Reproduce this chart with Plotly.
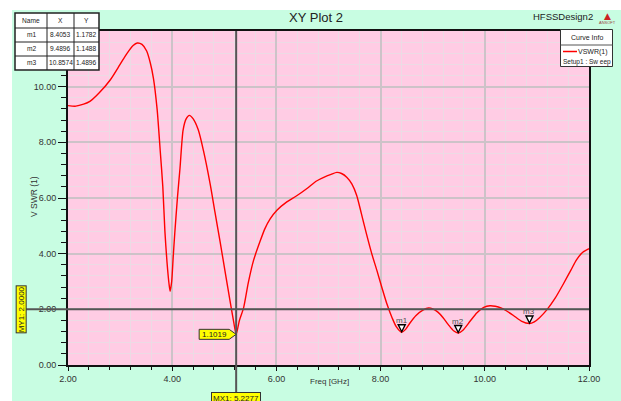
import plotly.graph_objects as go

# ---------------- data ----------------
freq_ghz = [2.00, 2.15, 2.30, 2.42, 2.60, 2.81, 3.00, 3.13, 3.25, 3.33, 3.42, 3.51, 3.58, 3.64,
            3.71, 3.77, 3.82, 3.86, 3.90, 3.94, 3.96, 3.99, 4.02, 4.05, 4.10, 4.15, 4.21, 4.27,
            4.33, 4.40, 4.50, 4.60, 4.73, 4.82, 4.92, 5.02, 5.11, 5.18, 5.2277, 5.29, 5.37,
            5.46, 5.56, 5.69, 5.78, 5.88, 6.01, 6.20, 6.39, 6.60, 6.77, 6.95, 7.05, 7.16, 7.25,
            7.35, 7.45, 7.54, 7.63, 7.73, 7.83, 7.93, 8.03, 8.12, 8.22, 8.30, 8.4053, 8.48,
            8.56, 8.68, 8.82, 8.92, 9.00, 9.10, 9.20, 9.30, 9.40, 9.4896, 9.58, 9.72, 9.85,
            9.98, 10.10, 10.20, 10.32, 10.42, 10.55, 10.70, 10.8574, 10.95, 11.05, 11.19, 11.35,
            11.51, 11.65, 11.76, 11.88, 12.00]
vswr = [9.32, 9.30, 9.37, 9.47, 9.78, 10.24, 10.80, 11.19, 11.48, 11.57, 11.52, 11.28, 10.85, 10.30,
        9.20, 7.70, 6.40, 4.80, 3.70, 2.90, 2.65, 3.00, 3.90, 4.75, 6.00, 7.08, 8.45, 8.85,
        8.97, 8.85, 8.45, 7.70, 6.49, 5.50, 4.42, 3.30, 2.30, 1.55, 1.1019, 1.60, 2.05,
        2.95, 3.75, 4.46, 4.90, 5.25, 5.56, 5.86, 6.08, 6.36, 6.61, 6.78, 6.85, 6.92, 6.88,
        6.75, 6.50, 6.10, 5.45, 4.70, 4.00, 3.39, 2.75, 2.20, 1.70, 1.38, 1.1782, 1.28,
        1.50, 1.78, 1.98, 2.05, 2.02, 1.90, 1.70, 1.45, 1.23, 1.1488, 1.25, 1.58, 1.88,
        2.07, 2.13, 2.11, 2.04, 1.94, 1.78, 1.58, 1.4896, 1.55, 1.70, 1.98, 2.40,
        2.92, 3.40, 3.78, 4.05, 4.18]

marker_names = ["m1", "m2", "m3"]
marker_x = [8.4053, 9.4896, 10.8574]
marker_y = [1.1782, 1.1488, 1.4896]

mx1_value = 5.2277
mx1_curve_value = 1.1019
my1_value = 2.0

x_ticks = [2, 4, 6, 8, 10, 12]
y_ticks = [0, 2, 4, 6, 8, 10]

# ---------------- layout helpers ----------------
W, H = 621, 401
L, R, T, B = 68, 589, 31, 365


def px(x):
    return (x - L) / (R - L)


def py(y):
    return (B - y) / (B - T)


FONT = "Liberation Sans Narrow, Liberation Sans, Arial, sans-serif"
PINK = "#ffcce4"
GREEN = "#c8fde2"
YELLOW = "#ffff00"

fig = go.Figure()

fig.add_trace(go.Scatter(
    x=freq_ghz, y=vswr, mode="lines",
    line=dict(color="#ff0000", width=1.4, shape="spline", smoothing=0.7),
    hoverinfo="skip", showlegend=False,
))

shapes = []
annotations = []


def note(**kw):
    d = dict(showarrow=False, xanchor="center", yanchor="middle")
    d.update(kw)
    annotations.append(d)


# backgrounds
shapes.append(dict(type="rect", xref="paper", yref="paper", x0=px(12), x1=px(W), y0=py(10), y1=py(H),
                   fillcolor=GREEN, line=dict(width=0), layer="below"))
shapes.append(dict(type="rect", xref="paper", yref="paper", x0=0, x1=1, y0=0, y1=1,
                   fillcolor=PINK, line=dict(width=0), layer="below"))

# marker lines
shapes.append(dict(type="line", xref="x", yref="paper", x0=mx1_value, x1=mx1_value, y0=py(392), y1=1,
                   line=dict(color="#555555", width=2), layer="above"))
shapes.append(dict(type="line", xref="paper", yref="y", x0=px(25), x1=1, y0=my1_value, y1=my1_value,
                   line=dict(color="#555555", width=2), layer="above"))

# m1..m3 triangles
for name, mx, my in zip(marker_names, marker_x, marker_y):
    shapes.append(dict(type="path", xref="x", yref="y", xsizemode="pixel", ysizemode="pixel",
                       xanchor=mx, yanchor=my, path="M -3.5,7.5 L 3.5,7.5 L 0,0.5 Z",
                       fillcolor="#ffffff", line=dict(color="#000000", width=1.4), layer="above"))
    note(x=mx, y=my, xref="x", yref="y", text=name, yshift=12,
         font=dict(family=FONT, size=8, color="#505050"))

# 1.1019 yellow pointer label
shapes.append(dict(type="path", xref="x", yref="y", xsizemode="pixel", ysizemode="pixel",
                   xanchor=mx1_value, yanchor=mx1_curve_value,
                   path="M -37,-5 L -7,-5 L 0,0 L -7,5 L -37,5 Z",
                   fillcolor=YELLOW, line=dict(color="#333333", width=1), layer="above"))
note(x=mx1_value, y=mx1_curve_value, xref="x", yref="y", text=f"{mx1_curve_value:.4f}",
     xshift=-22, font=dict(family=FONT, size=8, color="#222222"))

# MX1 label
note(x=mx1_value, y=py(391.5), xref="x", yref="paper", yanchor="top",
     text=f"MX1: {mx1_value:.4f}", bgcolor=YELLOW,
     bordercolor="#333333", borderwidth=1, borderpad=1,
     font=dict(family=FONT, size=8, color="#222222"))
# MY1 label
note(x=px(21), y=my1_value, xref="paper", yref="y", textangle=-90,
     text=f"MY1: {my1_value:.4f}", bgcolor=YELLOW,
     bordercolor="#333333", borderwidth=1, borderpad=0,
     font=dict(family=FONT, size=8, color="#222222"))

# marker data table (top-left)
tx = [15, 47, 74, 99]
ty = [13, 28, 42, 56, 70]
shapes.append(dict(type="rect", xref="paper", yref="paper", x0=px(tx[0]), x1=px(tx[-1]),
                   y0=py(ty[-1]), y1=py(ty[0]), fillcolor="#ffffff",
                   line=dict(color="#222222", width=1.5), layer="above"))
for xv in tx[1:-1]:
    shapes.append(dict(type="line", xref="paper", yref="paper", x0=px(xv), x1=px(xv),
                       y0=py(ty[-1]), y1=py(ty[0]), line=dict(color="#222222", width=1), layer="above"))
for yv in ty[1:-1]:
    shapes.append(dict(type="line", xref="paper", yref="paper", x0=px(tx[0]), x1=px(tx[-1]),
                       y0=py(yv), y1=py(yv), line=dict(color="#222222", width=1), layer="above"))
rows = [["Name", "X", "Y"]] + [[n, f"{a:.4f}", f"{b:.4f}"] for n, a, b in zip(marker_names, marker_x, marker_y)]
for ri, row in enumerate(rows):
    for ci, cell in enumerate(row):
        note(x=px((tx[ci] + tx[ci + 1]) / 2), y=py((ty[ri] + ty[ri + 1]) / 2),
             xref="paper", yref="paper", text=cell,
             font=dict(family=FONT, size=6.6, color="#222222"))

# curve info box (top-right)
shapes.append(dict(type="rect", xref="paper", yref="paper", x0=px(560.5), x1=px(612.5),
                   y0=py(66.5), y1=py(29.5), fillcolor="#ffffff",
                   line=dict(color="#333333", width=1), layer="above"))
shapes.append(dict(type="line", xref="paper", yref="paper", x0=px(560.5), x1=px(612.5),
                   y0=py(45), y1=py(45), line=dict(color="#555555", width=1), layer="above"))
shapes.append(dict(type="line", xref="paper", yref="paper", x0=px(563), x1=px(577),
                   y0=py(51.5), y1=py(51.5), line=dict(color="#ff0000", width=1.5), layer="above"))
note(x=px(586.5), y=py(37), xref="paper", yref="paper", text="Curve Info",
     font=dict(family=FONT, size=7, color="#222222"))
note(x=px(609.5), y=py(51.5), xref="paper", yref="paper", text="VSWR(1)",
     xanchor="right", font=dict(family=FONT, size=7, color="#222222"))
note(x=px(586.5), y=py(61.5), xref="paper", yref="paper", text="Setup1 : Sw eep",
     font=dict(family=FONT, size=6.5, color="#222222"))

# titles
note(x=px(316), y=py(18), xref="paper", yref="paper", text="XY Plot 2",
     font=dict(family=FONT, size=13, color="#222222"))
note(x=px(595), y=py(16), xref="paper", yref="paper", text="HFSSDesign2",
     xanchor="right", font=dict(family=FONT, size=9.5, color="#222222"))
note(x=px(607.5), y=py(15.5), xref="paper", yref="paper", text="▲",
     font=dict(family="DejaVu Sans", size=9, color="#cc2222"))
note(x=px(607.5), y=py(22.5), xref="paper", yref="paper", text="ANSOFT",
     font=dict(family=FONT, size=4, color="#994444"))
note(x=px(329), y=py(381), xref="paper", yref="paper", text="Freq [GHz]",
     font=dict(family=FONT, size=8, color="#333333"))
note(x=px(34), y=py(197), xref="paper", yref="paper", text="V SWR (1)",
     textangle=-90, font=dict(family=FONT, size=8.5, color="#333333"))

axis_common = dict(
    showline=True, linecolor="#111111", linewidth=2, mirror=True,
    ticks="outside", tickcolor="#111111", tickwidth=1,
    showgrid=True, gridcolor="#cdc3c8", gridwidth=1.5,
    zeroline=False, tickformat=".2f",
    tickfont=dict(family=FONT, size=9, color="#333333"),
)

fig.update_layout(
    width=W, height=H,
    margin=dict(l=L, r=W - R, t=T, b=H - B, pad=0),
    paper_bgcolor="#ffffff", plot_bgcolor=PINK,
    showlegend=False,
    xaxis=dict(range=[2, 12], tickvals=x_ticks, ticklen=4,
               minor=dict(dtick=0.4, tick0=0, ticklen=3, ticks="outside", tickcolor="#111111",
                          showgrid=True, gridcolor="#ecdbe4", gridwidth=1),
               **axis_common),
    yaxis=dict(range=[0, 12], tickvals=y_ticks, ticklen=8,
               minor=dict(dtick=0.4, tick0=0, ticklen=5, ticks="outside", tickcolor="#111111",
                          showgrid=True, gridcolor="#ecdbe4", gridwidth=1),
               **axis_common),
    shapes=shapes,
    annotations=annotations,
)

fig.write_html("out.html", config={"displayModeBar": False},
               post_script="document.body.style.margin='0px';document.body.style.overflow='hidden';")
